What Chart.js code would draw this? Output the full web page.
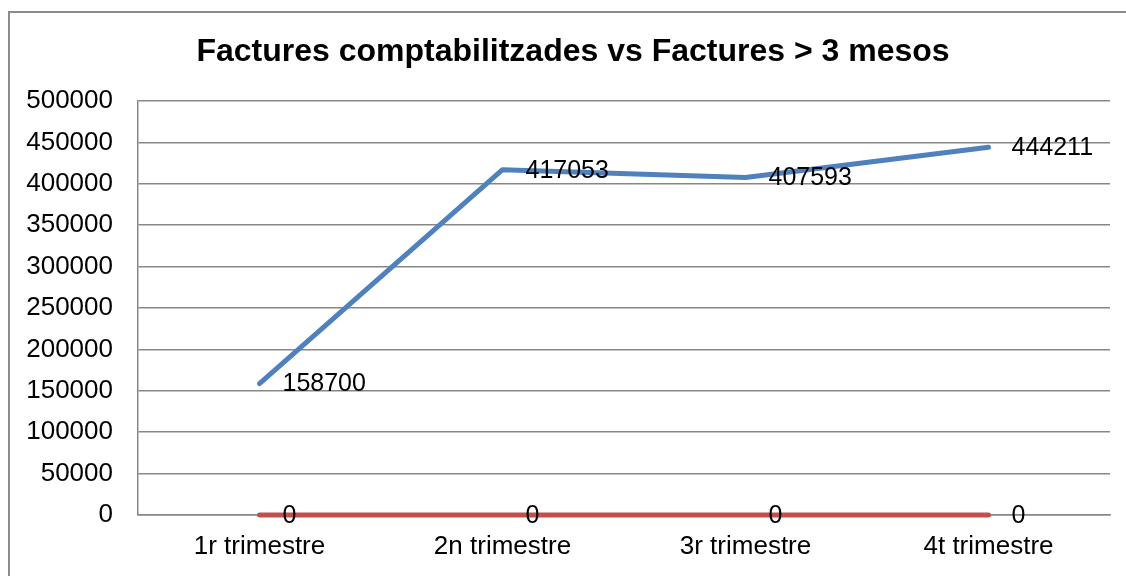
<!DOCTYPE html>
<html>
<head>
<meta charset="utf-8">
<title>Factures</title>
<script src="https://cdn.jsdelivr.net/npm/chart.js@4/dist/chart.umd.min.js"></script>
<style>
  html, body { margin: 0; padding: 0; background: #fff; overflow: hidden; }
  #frame {
    position: absolute; left: 8px; top: 11px; width: 1200px; height: 700px;
    border-left: 2px solid #8c8c8c; border-top: 2px solid #8c8c8c;
  }
  #chart { position: absolute; left: 0; top: 0; }
</style>
</head>
<body>
<div id="frame"></div>
<canvas id="chart" width="1126" height="576"></canvas>
<script>
const trimestres = ["1r trimestre", "2n trimestre", "3r trimestre", "4t trimestre"];
const comptabilitzades = [158700, 417053, 407593, 444211];
const mesTres = [0, 0, 0, 0];

const fontFamily = "'Liberation Sans', Arial, sans-serif";
const gris = "#878787";

// etiquetes de valor a la dreta de cada punt
const etiquetes = {
  id: "etiquetes",
  afterLayout(chart) {
    // el títol va centrat una mica a la dreta
    chart.titleBlock.left = 36;
    chart.titleBlock.width = chart.titleBlock.right - 36;
  },
  afterDatasetsDraw(chart) {
    const ctx = chart.ctx;
    ctx.save();
    ctx.font = "25px " + fontFamily;
    ctx.fillStyle = "#000";
    ctx.textAlign = "left";
    ctx.textBaseline = "middle";
    chart.data.datasets.forEach((ds, i) => {
      chart.getDatasetMeta(i).data.forEach((pt, j) => {
        ctx.fillText(String(ds.data[j]), pt.x + 23, pt.y + 1);
      });
    });
    ctx.restore();
  }
};

new Chart(document.getElementById("chart"), {
  type: "line",
  data: {
    labels: trimestres,
    datasets: [
      {
        label: "Factures comptabilitzades",
        data: comptabilitzades,
        borderColor: "#4F81BD",
        borderWidth: 5,
        borderCapStyle: "round",
        borderJoinStyle: "round",
        pointRadius: 0,
        tension: 0,
        fill: false,
        clip: false
      },
      {
        label: "Factures > 3 mesos",
        data: mesTres,
        borderColor: "#C0504D",
        borderWidth: 5,
        borderCapStyle: "round",
        pointRadius: 0,
        tension: 0,
        fill: false,
        clip: false
      }
    ]
  },
  options: {
    responsive: false,
    animation: false,
    layout: { padding: { top: 33, right: 16, bottom: 14, left: 0 } },
    plugins: {
      legend: { display: false },
      tooltip: { enabled: false },
      title: {
        display: true,
        text: "Factures comptabilitzades vs Factures > 3 mesos",
        color: "#000",
        font: { family: fontFamily, size: 32, weight: "bold", lineHeight: 1.2 },
        padding: { top: 0, bottom: 29.6 }
      }
    },
    scales: {
      x: {
        offset: true,
        afterFit(scale) { scale.height = 47; },
        grid: { display: true, drawOnChartArea: false, drawTicks: false, color: gris },
        border: { display: true, color: gris, width: 1.5 },
        ticks: { color: "#000", padding: 16, maxRotation: 0, font: { family: fontFamily, size: 26, lineHeight: 1.2 } }
      },
      y: {
        min: 0,
        max: 500000,
        afterFit(scale) { scale.width = 138; },
        grid: { color: gris, lineWidth: 1.5, drawTicks: false },
        border: { display: true, color: gris, width: 1.5 },
        ticks: {
          stepSize: 50000, color: "#000", padding: 25,
          font: { family: fontFamily, size: 26, lineHeight: 1.2 },
          callback: v => String(v)
        }
      }
    }
  },
  plugins: [etiquetes]
});
</script>
</body>
</html>
